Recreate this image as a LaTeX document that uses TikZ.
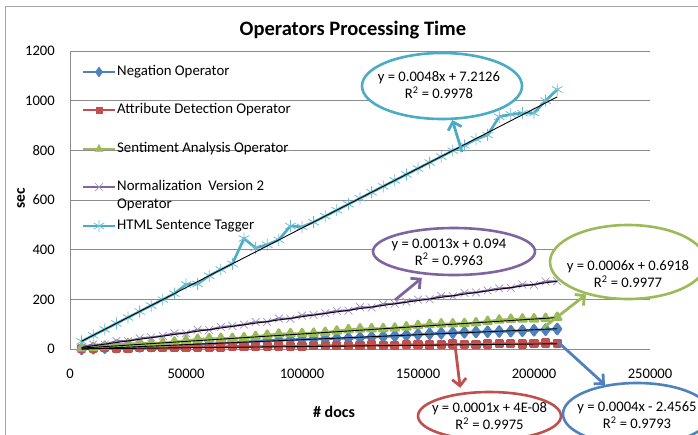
\documentclass[tikz,border=0pt]{standalone}
\usepackage{fontspec}
\setmainfont{Carlito}
\usetikzlibrary{shapes.geometric,arrows.meta,plotmarks}
\definecolor{negc}{HTML}{4F81BD}
\definecolor{attrc}{HTML}{C0504D}
\definecolor{sentc}{HTML}{9BBB59}
\definecolor{normc}{HTML}{8064A2}
\definecolor{htmlc}{HTML}{4BACC6}
\begin{document}
\begin{tikzpicture}[x=1pt,y=-1pt,
  grid/.style={black!45,line width=0.8pt},
  ticklab/.style={inner sep=0pt,font=\fontsize{14.6}{16}\selectfont},
  legtext/.style={anchor=west,inner sep=0pt,align=left,font=\fontsize{14.8}{18}\selectfont},
  series/.style={line width=2.6pt,line join=round},
  trend/.style={black,line width=0.9pt},
  fitline/.style={ellipse,line width=2.6pt,fill=white,inner sep=0pt},
  eqtext/.style={align=center,inner sep=0pt,font=\fontsize{14.6}{17}\selectfont},
  callout/.style={line width=2.8pt,-{Straight Barb[length=7pt,width=14pt]}}]
\clip (0,0) rectangle (698,434);
\fill[white] (0,0) rectangle (698,434);
\draw[black!35,line width=1pt] (5,440) -- (5,6) -- (705,6);

\node[font=\bfseries\fontsize{20.5}{24}\selectfont] (title) at (353,30) {Operators Processing Time};
\node[rotate=90,font=\bfseries\fontsize{15.5}{18}\selectfont] (ylab) at (21,198) {sec};
\node[font=\bfseries\fontsize{16}{18}\selectfont] (xlab) at (334,412) {\# docs};

\begin{scope}[shift={(70,349)},x=2.32pt,y=0.2483pt]
\foreach \s in {200,400,...,1200}
  \draw[grid] (0,\s) -- (250,\s);
\draw[grid] (0,0) -- (250,0);
\draw[grid] (0,0) -- (0,1200);
\foreach \s in {0,200,...,1200}
  \node[ticklab,anchor=east] at (-6.47,\s) {\s};
\foreach \k/\lab in {0/0,50/50000,100/100000,150/150000,200/200000,250/250000}
  \node[ticklab] at (\k,-100.7) {\lab};

\draw[series,negc,mark=diamond*,mark size=5pt] plot[domain=5:210,samples=42] (\x,{0.4*\x-2.5+2*sin(\x*77)});
\draw[series,attrc,mark=square*,mark size=3.3pt] plot[domain=5:210,samples=42] (\x,{0.1*\x+2+1.5*sin(\x*53)});
\draw[series,sentc,mark=triangle*,mark size=4.6pt] plot[domain=5:210,samples=42] (\x,{0.6*\x+3+3*sin(\x*61)});
\draw[series,line width=2pt,normc,mark=x,mark size=5.5pt,mark options={line width=0.7pt,normc!70}] plot[domain=5:210,samples=42] (\x,{1.3*\x+2+4*sin(\x*41)});
\draw[series,htmlc,mark=asterisk,mark size=6pt,mark options={line width=0.8pt,htmlc!80}] plot coordinates {
  (5,31) (10,55) (15,79) (20,103) (25,127) (30,151) (35,175) (40,199) (45,223) (50,260) (55,262)
  (60,295) (65,320) (70,343) (75,445) (80,407) (85,420) (90,440) (95,495) (100,492) (105,511)
  (110,535) (115,559) (120,583) (125,607) (130,631) (135,655) (140,679) (145,703) (150,727)
  (155,751) (160,775) (165,799) (170,820) (175,845) (180,862) (185,935) (190,945) (195,950)
  (200,950) (205,1000) (210,1045)};

\draw[trend] (5,{4.8*5+7.2126}) -- (210,{4.8*210+7.2126});
\draw[trend] (5,{1.3*5+0.094}) -- (210,{1.3*210+0.094});
\draw[trend] (5,{0.6*5+0.6918}) -- (210,{0.6*210+0.6918});
\draw[trend] (5,{0.4*5-2.4565}) -- (210,{0.4*210-2.4565});
\draw[trend] (5,{0.1*5}) -- (210,{0.1*210});
\end{scope}

\draw[series,negc] (83,72) -- (115,72);
\path[negc] plot[mark=diamond*,mark size=5pt] coordinates {(99,72)};
\node[legtext] (legNeg) at (117,72) {Negation Operator};
\draw[series,attrc] (83,110) -- (115,110);
\path[attrc] plot[mark=square*,mark size=3.3pt] coordinates {(99,110)};
\node[legtext] (legAttr) at (117,110) {Attribute Detection Operator};
\draw[series,sentc] (83,149) -- (115,149);
\path[sentc] plot[mark=triangle*,mark size=4.6pt] coordinates {(99,149)};
\node[legtext] (legSent) at (117,149) {Sentiment Analysis Operator};
\draw[series,line width=2pt,normc] (83,187) -- (115,187);
\path plot[mark=x,mark size=5.5pt,mark options={line width=0.7pt,normc!70}] coordinates {(99,187)};
\node[legtext] (legNorm) at (117,196) {Normalization\ \ Version 2\\Operator};
\draw[series,htmlc] (83,226) -- (115,226);
\path plot[mark=asterisk,mark size=6pt,mark options={line width=0.8pt,htmlc!80}] coordinates {(99,226)};
\node[legtext] (legHTML) at (117,226) {HTML Sentence Tagger};

\coordinate (tailHTML) at (462,152);
\coordinate (tailNorm) at (395,300);
\coordinate (tailSent) at (543,328);
\coordinate (tailAttr) at (455,345);
\coordinate (tailNeg) at (558,342);

\node[fitline,draw=htmlc,minimum width=160pt,minimum height=66pt] (fitHTML) at (442,86) {};
\node[eqtext] (eqHTML) at (439,85) {y = 0.0048x + 7.2126\\R\textsuperscript{2} = 0.9978};
\node[fitline,draw=normc,minimum width=162pt,minimum height=47pt] (fitNorm) at (454,251.5) {};
\node[eqtext] (eqNorm) at (449,252) {y = 0.0013x + 0.094\\R\textsuperscript{2} = 0.9963};
\node[fitline,draw=sentc,minimum width=156pt,minimum height=74pt] (fitSent) at (628,262) {};
\node[eqtext] (eqSent) at (628,274) {y = 0.0006x + 0.6918\\R\textsuperscript{2} = 0.9977};
\node[fitline,draw=attrc,minimum width=143pt,minimum height=48pt] (fitAttr) at (489.5,416) {};
\node[eqtext] (eqAttr) at (489.5,416) {y = 0.0001x + 4E-08\\R\textsuperscript{2} = 0.9975};
\node[fitline,draw=negc,minimum width=148pt,minimum height=62pt] (fitNeg) at (637,414) {};
\node[eqtext] (eqNeg) at (637,415) {y = 0.0004x - 2.4565\\R\textsuperscript{2} = 0.9793};

\draw[callout,htmlc] (tailHTML) -- (fitHTML);
\draw[callout,normc,shorten >=5pt] (tailNorm) -- (fitNorm);
\draw[callout,sentc] (tailSent) -- (fitSent);
\draw[callout,attrc,shorten >=5pt] (tailAttr) -- (fitAttr.141);
\draw[callout,negc] (tailNeg) -- (fitNeg);
\end{tikzpicture}
\end{document}
